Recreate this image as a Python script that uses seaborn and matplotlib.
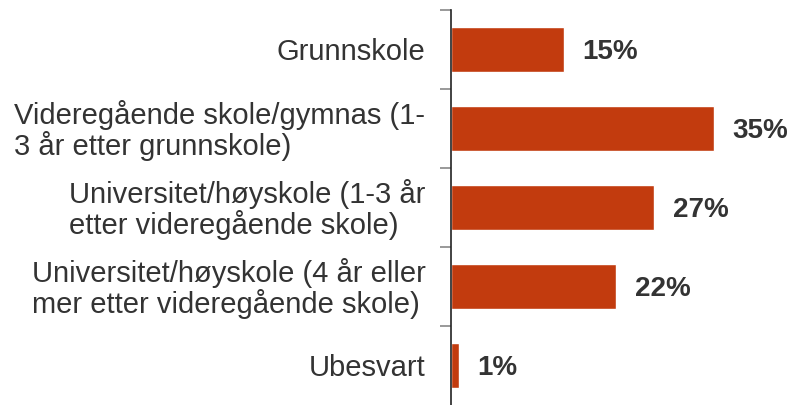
import pandas as pd
import seaborn as sns
import matplotlib.pyplot as plt

categories = [
    'Grunnskole',
    'Videregående skole/gymnas (1-\n3 år etter grunnskole)',
    'Universitet/høyskole (1-3 år\netter videregående skole)',
    'Universitet/høyskole (4 år eller\nmer etter videregående skole)',
    'Ubesvart',
]
shares = [15, 35, 27, 22, 1]
value_labels = ['15%', '35%', '27%', '22%', '1%']

df = pd.DataFrame({'category': categories, 'share': shares})

sns.set_style('white')
plt.rcParams['font.family'] = ['Liberation Sans', 'DejaVu Sans']

fig = plt.figure(figsize=(7.93, 4.05), dpi=100)
ax = fig.add_axes([451 / 793, 0.0, 338 / 793, 1 - 10 / 405])

sns.barplot(data=df, x='share', y='category', orient='h', color='#C23B0E',
            saturation=1, width=0.57, ax=ax)

for i, (v, lab) in enumerate(zip(shares, value_labels)):
    ax.text(v + 2.5, i + 0.03, lab, va='center', ha='left', fontsize=20,
            fontweight='bold', color='#333333')

ax.set_xlim(0, 45)
ax.set_ylim(4.5, -0.5)
ax.set_xlabel('')
ax.set_ylabel('')
ax.set_xticks([])
ax.set_yticks([-0.5, 0.5, 1.5, 2.5, 3.5])
ax.set_yticklabels([])
ax.tick_params(axis='y', which='major', length=8, width=1.2, color='#888888', left=True)
for i, cat in enumerate(categories):
    ax.text(-3.4, i + 0.03, cat, ha='right', va='center', multialignment='left',
            fontsize=21, color='#333333', linespacing=1.05)

for side in ['top', 'right', 'bottom']:
    ax.spines[side].set_visible(False)
ax.spines['left'].set_color('#222222')
ax.spines['left'].set_linewidth(1.2)

plt.savefig('out.png', dpi=100)
